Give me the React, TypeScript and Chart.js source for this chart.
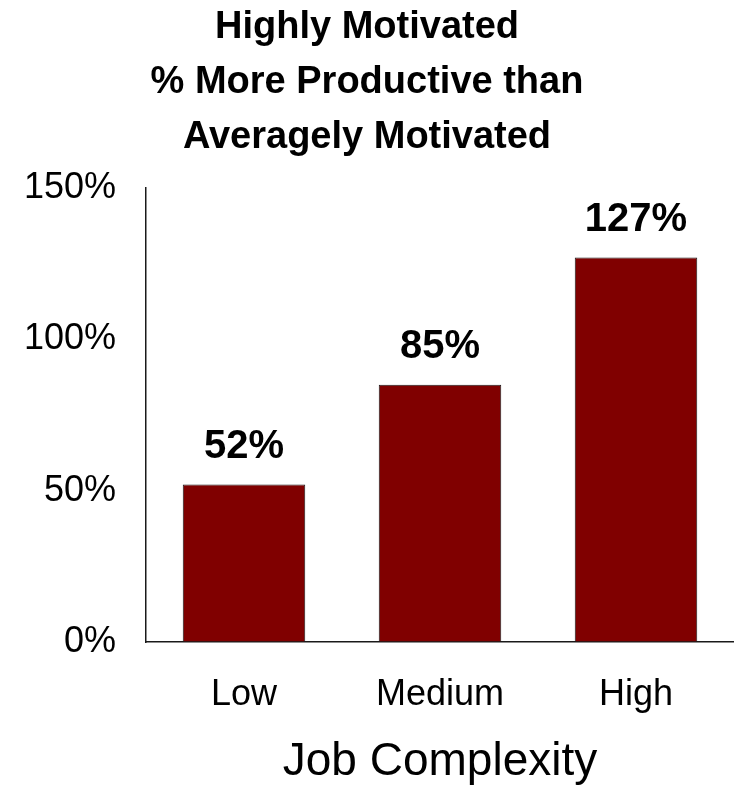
import React, { useEffect, useRef } from "react";
import { Chart, registerables } from "chart.js";

Chart.register(...registerables);

const categories = ["Low", "Medium", "High"];
const productivityGain = [52, 85, 127];
const yTicks = [0, 50, 100, 150];
const titleLines = ["Highly Motivated", "% More Productive than", "Averagely Motivated"];
const xAxisTitle = "Job Complexity";

const FONT = "'Liberation Sans', Arial, Helvetica, sans-serif";

const valueLabels = {
  id: "valueLabels",
  afterDatasetsDraw(chart: any) {
    const ctx = chart.ctx;
    const meta = chart.getDatasetMeta(0);
    const data = chart.data.datasets[0].data;
    ctx.save();
    ctx.font = `bold 40px ${FONT}`;
    ctx.fillStyle = "#000000";
    ctx.textAlign = "center";
    ctx.textBaseline = "alphabetic";
    meta.data.forEach((bar: any, i: number) => {
      ctx.fillText(`${data[i]}%`, bar.x, bar.y - 27);
    });
    ctx.restore();
  },
};

const whiteBg = {
  id: "whiteBg",
  beforeDraw(chart: any) {
    const ctx = chart.ctx;
    ctx.save();
    ctx.fillStyle = "#ffffff";
    ctx.fillRect(0, 0, chart.width, chart.height);
    ctx.restore();
  },
};

export default function App() {
  const ref = useRef<HTMLCanvasElement | null>(null);

  useEffect(() => {
    if (!ref.current) return;
    const chart = new Chart(ref.current, {
      type: "bar",
      data: {
        labels: categories,
        datasets: [
          {
            data: productivityGain,
            backgroundColor: "#800000",
            borderColor: "#1a1a1a",
            borderWidth: 1,
            categoryPercentage: 1,
            barPercentage: 0.625,
          },
        ],
      },
      options: {
        responsive: false,
        animation: false,
        layout: { padding: { left: 0, right: 0, top: 0, bottom: 0 } },
        plugins: {
          legend: { display: false },
          tooltip: { enabled: false },
          title: {
            display: true,
            text: titleLines,
            color: "#000000",
            font: { family: FONT, size: 38, weight: "bold", lineHeight: 1.447 },
            padding: { top: 0, bottom: 23 },
          },
        },
        scales: {
          x: {
            afterFit(axis: any) {
              axis.height = 148;
            },
            grid: { display: true, drawOnChartArea: false, drawTicks: false },
            border: { display: true, color: "#1a1a1a", width: 1.5 },
            ticks: {
              color: "#000000",
              font: { family: FONT, size: 36 },
              padding: 31,
              maxRotation: 0,
              autoSkip: false,
            },
            title: {
              display: true,
              text: xAxisTitle,
              color: "#000000",
              font: { family: FONT, size: 46, lineHeight: 1.2 },
              padding: { top: 0, bottom: 0 },
            },
          },
          y: {
            min: 0,
            max: 150,
            afterFit(axis: any) {
              axis.width = 146;
            },
            afterBuildTicks(axis: any) {
              axis.ticks = yTicks.map((v) => ({ value: v }));
            },
            grid: { display: true, drawOnChartArea: false, drawTicks: false },
            border: { display: true, color: "#1a1a1a", width: 1.5 },
            ticks: {
              color: "#000000",
              font: { family: FONT, size: 36 },
              padding: 30,
              callback: (v: any) => `${v}%`,
            },
          },
        },
      },
      plugins: [whiteBg, valueLabels],
    });
    return () => chart.destroy();
  }, []);

  return (
    <div style={{ position: "absolute", left: 0, top: 0, width: 734, height: 790 }}>
      <canvas ref={ref} width={734} height={790} style={{ display: "block" }} />
    </div>
  );
}
